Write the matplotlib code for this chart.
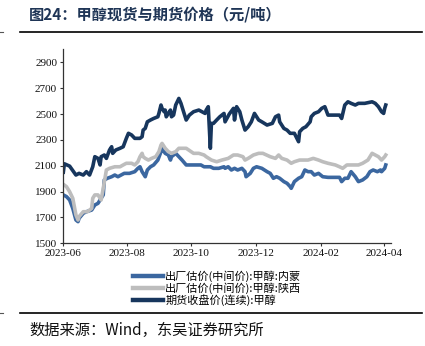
import matplotlib
matplotlib.use("Agg")
import matplotlib.pyplot as plt
import matplotlib.dates as mdates
from matplotlib.lines import Line2D
import pandas as pd

plt.rcParams['font.family'] = ['Noto Sans CJK SC', 'DejaVu Sans']

title = "图24：甲醇现货与期货价格（元/吨）"
source = "数据来源：Wind，东吴证券研究所"
labels = ["出厂估价(中间价):甲醇:内蒙", "出厂估价(中间价):甲醇:陕西", "期货收盘价(连续):甲醇"]
colors = ["#3B67A0", "#BDBDBD", "#17365D"]

nm_dates = ["2023-06-01","2023-06-04","2023-06-07","2023-06-10","2023-06-13","2023-06-15","2023-06-16",
            "2023-06-20","2023-06-23","2023-06-28","2023-07-01","2023-07-04","2023-07-07","2023-07-09",
            "2023-07-10","2023-07-13","2023-07-17","2023-07-20","2023-07-23","2023-07-26","2023-07-29",
            "2023-08-03","2023-08-08","2023-08-11","2023-08-13","2023-08-15","2023-08-18","2023-08-20",
            "2023-08-23","2023-08-26","2023-08-30","2023-09-02","2023-09-03","2023-09-06","2023-09-09",
            "2023-09-11","2023-09-12","2023-09-16","2023-09-19","2023-09-22","2023-09-26","2023-09-30",
            "2023-10-10","2023-10-13","2023-10-19","2023-10-22","2023-10-27","2023-11-01","2023-11-02",
            "2023-11-05","2023-11-08","2023-11-11","2023-11-14","2023-11-18","2023-11-21","2023-11-22",
            "2023-11-26","2023-11-29","2023-12-02","2023-12-07","2023-12-12","2023-12-15","2023-12-18",
            "2023-12-21","2023-12-24","2023-12-28","2023-12-31","2024-01-03","2024-01-04","2024-01-07",
            "2024-01-11","2024-01-14","2024-01-17","2024-01-20","2024-01-23","2024-01-26","2024-01-30",
            "2024-02-03","2024-02-08","2024-02-19","2024-02-21","2024-02-24","2024-02-27","2024-03-01",
            "2024-03-05","2024-03-08","2024-03-12","2024-03-16","2024-03-19","2024-03-22","2024-03-26",
            "2024-03-29","2024-03-30","2024-04-02","2024-04-03"]
nm_vals = [1874,1861,1835,1770,1680,1667,1693,
           1732,1744,1757,1796,1809,1848,1874,
           1990,2003,2015,2028,2015,2028,2041,
           2041,2054,2080,2092,2054,2015,2067,
           2092,2106,2144,2209,2235,2196,2183,
           2144,2170,2196,2170,2144,2106,2106,
           2106,2092,2092,2080,2080,2092,2080,
           2092,2067,2080,2067,2080,2054,2015,
           2041,2080,2092,2080,2054,2041,2003,
           2015,2003,1977,1964,1938,1925,1977,
           2003,2015,2067,2054,2054,2028,2041,
           2015,2010,2010,1977,2003,2003,2054,
           2015,1977,1990,2015,2054,2067,2054,
           2067,2054,2080,2106]

sx_dates = ["2023-06-01","2023-06-04","2023-06-07","2023-06-10","2023-06-13","2023-06-15","2023-06-16",
            "2023-06-20","2023-06-24","2023-06-28","2023-06-29","2023-07-01","2023-07-04","2023-07-07",
            "2023-07-09","2023-07-12","2023-07-15","2023-07-20","2023-07-25","2023-07-28","2023-07-31",
            "2023-08-05","2023-08-08","2023-08-11","2023-08-13","2023-08-15","2023-08-16","2023-08-18",
            "2023-08-21","2023-08-24","2023-08-28","2023-08-31","2023-09-02","2023-09-03","2023-09-06",
            "2023-09-09","2023-09-12","2023-09-16","2023-09-19","2023-09-26","2023-10-03","2023-10-08",
            "2023-10-13","2023-10-15","2023-10-20","2023-10-25","2023-10-30","2023-11-05","2023-11-10",
            "2023-11-14","2023-11-19","2023-11-21","2023-11-24","2023-11-29","2023-12-04","2023-12-08",
            "2023-12-15","2023-12-20","2023-12-23","2023-12-26","2023-12-31","2024-01-04","2024-01-07",
            "2024-01-12","2024-01-17","2024-01-20","2024-01-25","2024-01-30","2024-02-03","2024-02-08",
            "2024-02-15","2024-02-19","2024-02-22","2024-02-26","2024-03-01","2024-03-08","2024-03-12",
            "2024-03-17","2024-03-21","2024-03-24","2024-03-27","2024-03-30","2024-04-02","2024-04-03"]
sx_vals = [1956,1938,1899,1848,1719,1680,1706,
           1744,1744,1770,1848,1874,1874,1835,
           1925,2067,2080,2092,2092,2106,2119,
           2119,2106,2131,2170,2196,2170,2157,
           2144,2157,2170,2209,2260,2273,2235,
           2209,2196,2209,2235,2235,2196,2196,
           2183,2170,2144,2131,2144,2157,2183,
           2183,2170,2144,2157,2183,2196,2196,
           2170,2157,2183,2157,2144,2119,2131,
           2144,2144,2144,2157,2144,2131,2119,
           2106,2092,2080,2106,2106,2106,2119,
           2144,2196,2183,2170,2144,2170,2183]

fu_dates = ["2023-06-01","2023-06-02","2023-06-07","2023-06-13","2023-06-16","2023-06-20","2023-06-23",
            "2023-06-26","2023-06-29","2023-07-01","2023-07-04","2023-07-06","2023-07-07","2023-07-10",
            "2023-07-12","2023-07-15","2023-07-17","2023-07-18","2023-07-21","2023-07-25","2023-07-28",
            "2023-07-31","2023-08-02","2023-08-05","2023-08-08","2023-08-13","2023-08-15","2023-08-16",
            "2023-08-18","2023-08-20","2023-08-23","2023-08-26","2023-08-30","2023-08-31","2023-09-02",
            "2023-09-03","2023-09-05","2023-09-06","2023-09-07","2023-09-09","2023-09-11","2023-09-12",
            "2023-09-14","2023-09-16","2023-09-19","2023-09-21","2023-09-24","2023-09-26","2023-09-29",
            "2023-10-03","2023-10-08","2023-10-11","2023-10-14","2023-10-15","2023-10-17","2023-10-19",
            "2023-10-20","2023-10-22","2023-10-25","2023-10-28","2023-11-01","2023-11-02","2023-11-06",
            "2023-11-10","2023-11-11","2023-11-13","2023-11-16","2023-11-18","2023-11-21","2023-11-24",
            "2023-11-27","2023-11-30","2023-12-04","2023-12-07","2023-12-12","2023-12-17","2023-12-20",
            "2023-12-23","2023-12-24","2023-12-28","2023-12-31","2024-01-03","2024-01-07","2024-01-11",
            "2024-01-12","2024-01-15","2024-01-18","2024-01-22","2024-01-23","2024-01-26","2024-01-30",
            "2024-02-02","2024-02-05","2024-02-08","2024-02-19","2024-02-21","2024-02-24","2024-02-27",
            "2024-03-01","2024-03-05","2024-03-08","2024-03-14","2024-03-21","2024-03-24","2024-03-27",
            "2024-03-30","2024-04-01","2024-04-02","2024-04-03"]
fu_vals = [2050,2115,2097,2028,2041,2028,2054,
           2028,2092,2170,2157,2106,2170,2183,
           2157,2222,2247,2196,2222,2235,2247,
           2312,2351,2338,2312,2312,2325,2376,
           2389,2440,2454,2466,2479,2505,2570,
           2544,2518,2531,2479,2505,2531,2479,
           2492,2570,2621,2583,2505,2454,2492,
           2518,2531,2518,2505,2531,2557,2235,
           2428,2428,2454,2479,2505,2440,2500,
           2544,2454,2557,2518,2454,2376,2402,
           2440,2505,2454,2440,2415,2428,2479,
           2492,2440,2389,2376,2351,2351,2286,
           2363,2389,2402,2440,2479,2505,2518,
           2544,2557,2492,2492,2466,2570,2595,
           2583,2570,2583,2583,2595,2583,2557,
           2518,2505,2544,2570]

yticks = [1500, 1700, 1900, 2100, 2300, 2500, 2700, 2900]
xticks = ["2023-06-01", "2023-08-01", "2023-10-01", "2023-12-01", "2024-02-01", "2024-04-01"]

fig = plt.figure(figsize=(4.25, 3.46), dpi=100)
ax = fig.add_axes([0.149, 0.297, 0.771, 0.560])

series = [(nm_dates, nm_vals), (sx_dates, sx_vals), (fu_dates, fu_vals)]
for (d, v), c, lab in zip(series, colors, labels):
    ax.plot(pd.to_datetime(d), v, color=c, lw=2.6, label=lab, solid_joinstyle='round')

ax.set_ylim(1500, 3000)
ax.set_yticks(yticks)
ax.set_xlim(pd.Timestamp("2023-06-01"), pd.Timestamp("2024-04-08"))
ax.set_xticks(pd.to_datetime(xticks))
ax.xaxis.set_major_formatter(mdates.DateFormatter("%Y-%m"))
for s in ["top", "right"]:
    ax.spines[s].set_visible(False)
for s in ["left", "bottom"]:
    ax.spines[s].set_color("#333333")
    ax.spines[s].set_linewidth(0.9)
ax.tick_params(direction="out", length=2.5, width=0.8, color="#333333", labelsize=8, pad=2)
for lbl in ax.get_xticklabels() + ax.get_yticklabels():
    lbl.set_family("Liberation Serif")
    lbl.set_color("#111111")

handles = [Line2D([0], [0], color=c, lw=3.2) for c in colors]
fig.legend(handles, labels, loc="upper left", bbox_to_anchor=(0.313, 0.219),
           frameon=False, fontsize=8, handlelength=2.7, handletextpad=0.2,
           labelspacing=0.05, borderpad=0, borderaxespad=0)

fig.text(29/425, 1 - 15/346, title, fontsize=11, fontweight="bold", color="#1F3556",
         va="center", ha="left")
fig.text(29/425, 1 - 330/346, source, fontsize=11, color="#111111", va="center", ha="left")

fig.add_artist(Line2D([20/425, 422/425], [1 - 32.3/346] * 2, color="black", lw=1.2))
fig.add_artist(Line2D([20/425, 422/425], [1 - 313.3/346] * 2, color="black", lw=1.2))
fig.add_artist(Line2D([0, 3/425], [1 - 32.3/346] * 2, color="#555555", lw=0.8))
fig.add_artist(Line2D([0, 3/425], [1 - 313.3/346] * 2, color="#555555", lw=0.8))

fig.savefig("out.png", dpi=100)
